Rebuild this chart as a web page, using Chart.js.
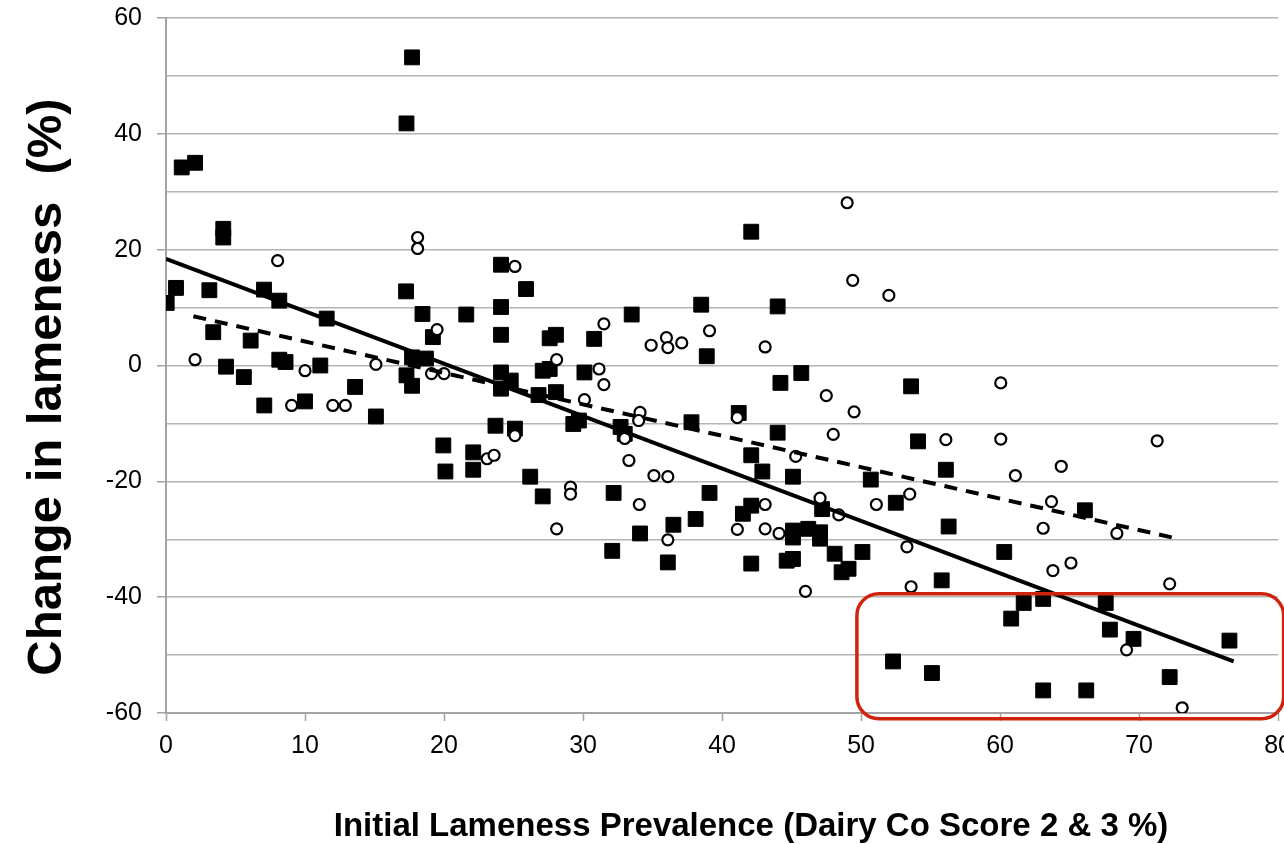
<!DOCTYPE html>
<html>
<head>
<meta charset="utf-8">
<script src="https://cdn.jsdelivr.net/npm/chart.js@4/dist/chart.umd.min.js"></script>
<style>
    html, body { margin: 0; padding: 0; background: #fff; overflow: hidden; }
    body { width: 1284px; height: 844px; position: relative; }
    /* canvas a bit larger than the window so the "80" label gets clipped like the original */
    #wrap { width: 1302px; height: 856px; position: absolute; left: 0; top: -12px; }
</style>
</head>
<body>
<div id="wrap"><canvas id="lamenessChart"></canvas></div>
<script>
// filled squares
const squareX = [0.05, 0.72, 1.13, 2.09, 3.12, 4.12, 4.12, 3.4, 4.32, 5.6, 6.09, 7.05, 7.07, 8.15, 8.15, 8.6, 10.0, 11.1, 11.56, 13.6,
    15.1, 17.27, 17.3, 17.7, 17.7, 18.7, 17.3, 17.7, 18.45, 19.2, 19.95, 20.1, 21.6, 22.1, 22.1, 23.7, 24.1, 24.1, 24.1, 24.1,
    24.8, 24.1, 25.1, 25.9, 26.2, 26.8, 27.1, 27.1, 27.6, 27.6, 28.05, 28.05, 29.3, 29.7, 30.1, 30.8, 32.1, 32.2, 32.7, 33.0,
    33.5, 34.1, 36.1, 36.5, 37.8, 38.1, 38.5, 38.9, 39.1, 41.2, 41.5, 42.1, 42.1, 42.1, 42.1, 42.9, 44.0, 44.2, 44.0, 44.65,
    45.1, 45.1, 45.1, 45.1, 45.7, 46.2, 47.05, 47.05, 47.2, 48.1, 48.6, 49.1, 50.1, 50.7, 52.3, 52.5, 53.6, 54.1, 55.1, 55.8,
    56.1, 56.3, 60.3, 60.8, 61.7, 63.1, 63.1, 66.1, 66.2, 67.6, 67.9, 69.6, 72.2, 76.5];
const squareY = [10.8, 13.4, 34.2, 35.0, 13.0, 23.6, 22.1, 5.75, -0.2, -2.0, 4.3, 13.1, -6.9, 11.2, 1.0, 0.6, -6.2, 0.0, 8.1, -3.7,
    -8.8, 12.8, -1.7, -3.5, 1.4, 1.2, 41.8, 53.2, 8.9, 4.9, -13.8, -18.3, 8.8, -15.0, -18.0, -10.4, 17.4, 10.1, 5.3, -1.2,
    -2.6, -4.0, -10.9, 13.2, -19.2, -5.1, -22.6, -0.9, -0.6, 4.7, 5.3, -4.6, -10.1, -9.5, -1.2, 4.6, -32.0, -22.0, -10.6, -11.8,
    8.8, -29.0, -34.0, -27.5, -9.8, -26.5, 10.5, 1.6, -22.0, -8.2, -25.6, -24.2, 23.1, -15.5, -34.2, -18.3, 10.2, -3.0, -11.6, -33.7,
    -33.4, -19.2, -28.5, -29.7, -1.3, -28.2, -28.8, -29.9, -24.8, -32.5, -35.7, -35.1, -32.2, -19.7, -51.1, -23.7, -3.6, -13.1, -53.1, -37.1,
    -18.0, -27.8, -32.2, -43.7, -41.0, -40.3, -56.1, -25.0, -56.1, -41.0, -45.6, -47.2, -53.8, -47.5];

// open circles
const circleX = [2.09, 8.03, 9.04, 10.0, 12.0, 12.9, 15.1, 18.1, 18.1, 19.5, 19.1, 20.0, 23.1, 23.6, 25.1, 25.1, 28.1, 28.1, 29.1, 29.1,
    30.1, 31.15, 31.5, 31.5, 33.0, 33.3, 34.1, 34.0, 34.05, 34.9, 35.1, 36.0, 36.1, 36.1, 36.1, 37.1, 39.1, 41.1, 41.1, 43.1,
    43.1, 43.1, 44.1, 45.3, 46.0, 47.5, 47.05, 48.0, 48.4, 49.0, 49.4, 49.5, 51.1, 52.0, 53.3, 53.5, 53.6, 56.1, 60.05, 60.05,
    61.1, 63.1, 63.7, 63.8, 64.4, 65.1, 68.4, 69.1, 71.3, 72.2, 73.1];
const circleY = [1.0, 18.1, -6.9, -0.9, -6.9, -6.9, 0.2, 22.1, 20.2, 6.2, -1.4, -1.4, -16.1, -15.5, 17.1, -12.1, 1.0, -28.2, -21.0, -22.2,
    -5.9, -0.6, -3.3, 7.2, -12.6, -16.4, -8.1, -9.5, -24.0, 3.5, -19.0, 4.8, 3.1, -19.2, -30.1, 3.9, 6.0, -9.0, -28.3, 3.2,
    -24.0, -28.2, -29.0, -15.7, -39.0, -5.2, -22.9, -11.9, -25.8, 28.1, 14.7, -8.0, -24.0, 12.1, -31.3, -22.2, -38.2, -12.8, -3.0, -12.7,
    -19.0, -28.1, -23.5, -35.4, -17.4, -34.1, -29.0, -49.1, -13.0, -37.7, -59.1];

// linear trend lines (end points)
const trendSolidX = [0, 76.8];
const trendSolidY = [18.4, -51.1];
const trendDashX = [1.97, 72.75];
const trendDashY = [8.5, -29.9];

const xTicks = [0, 10, 20, 30, 40, 50, 60, 70, 80];
const yTicks = [-60, -40, -20, 0, 20, 40, 60];

// highlighted region (data units)
const boxX = [49.7, 80.4];
const boxY = [-39.4, -61.0];

function toPoints(xs, ys) {
    return xs.map((x, i) => ({ x: x, y: ys[i] }));
}

const gridGray = '#b4b4b4';
const axisGray = '#a3a3a3';

const extrasPlugin = {
    id: 'extras',
    afterDatasetsDraw(chart) {
        const c = chart.ctx;
        const xs = chart.scales.x, ys = chart.scales.y;
        // red rounded box
        const l = xs.getPixelForValue(boxX[0]), r = xs.getPixelForValue(boxX[1]);
        const t = ys.getPixelForValue(boxY[0]), b = ys.getPixelForValue(boxY[1]);
        c.save();
        c.strokeStyle = '#d0230c';
        c.lineWidth = 3.5;
        c.beginPath();
        c.roundRect(l, t, r - l, b - t, 22);
        c.stroke();
        c.restore();
    },
    afterDraw(chart) {
        const c = chart.ctx;
        c.save();
        c.fillStyle = '#000';
        c.textAlign = 'center';
        c.textBaseline = 'middle';
        c.font = 'bold 33px "Liberation Sans", Arial, sans-serif';
        c.fillText('Initial Lameness Prevalence (Dairy Co Score 2 & 3 %)', 751, 839);
        c.translate(47, 399);
        c.rotate(-Math.PI / 2);
        c.font = 'bold 49px "Liberation Sans", Arial, sans-serif';
        c.fillText('Change in lameness  (%)', 0, 0);
        c.restore();
    }
};

const ctx = document.getElementById('lamenessChart').getContext('2d');
new Chart(ctx, {
    type: 'scatter',
    data: {
        datasets: [{
            label: 'trend all',
            data: toPoints(trendSolidX, trendSolidY),
            showLine: true,
            borderColor: '#000',
            borderWidth: 4,
            pointRadius: 0
        }, {
            label: 'trend circles',
            data: toPoints(trendDashX, trendDashY),
            showLine: true,
            borderColor: '#000',
            borderWidth: 4,
            borderDash: [13, 9],
            pointRadius: 0
        }, {
            label: 'circles',
            data: toPoints(circleX, circleY),
            pointStyle: 'circle',
            pointRadius: 5.5,
            backgroundColor: '#fff',
            borderColor: '#000',
            borderWidth: 2.2
        }, {
            label: 'squares',
            data: toPoints(squareX, squareY),
            pointStyle: 'rect',
            pointRadius: 10.5,
            backgroundColor: '#000',
            borderColor: '#000',
            borderWidth: 1
        }]
    },
    options: {
        responsive: true,
        maintainAspectRatio: false,
        animation: false,
        events: [],
        layout: {
            padding: { top: 18, right: 6, left: 0, bottom: 0 }
        },
        plugins: {
            legend: { display: false },
            tooltip: { enabled: false }
        },
        scales: {
            x: {
                type: 'linear',
                min: 0,
                max: 80,
                afterFit: s => { s.height = 131; },
                afterBuildTicks: s => { s.ticks = xTicks.map(v => ({ value: v })); },
                ticks: {
                    color: '#000',
                    padding: 10,
                    maxRotation: 0,
                    font: { family: '"Liberation Sans", Arial, sans-serif', size: 25 }
                },
                grid: {
                    drawOnChartArea: false,
                    drawTicks: true,
                    tickLength: 8,
                    tickColor: axisGray,
                    tickWidth: 1.5
                },
                border: { color: axisGray, width: 2 }
            },
            y: {
                type: 'linear',
                min: -60,
                max: 60,
                afterFit: s => { s.width = 166; },
                ticks: {
                    stepSize: 10,
                    color: '#000',
                    padding: 15,
                    callback: v => yTicks.includes(v) ? v : '',
                    font: { family: '"Liberation Sans", Arial, sans-serif', size: 25 }
                },
                grid: {
                    color: gridGray,
                    lineWidth: 1.5,
                    tickLength: 9,
                    tickColor: c => yTicks.includes(c.tick.value) ? axisGray : 'rgba(0,0,0,0)'
                },
                border: { color: axisGray, width: 2 }
            }
        }
    },
    plugins: [extrasPlugin]
});
</script>
</body>
</html>
